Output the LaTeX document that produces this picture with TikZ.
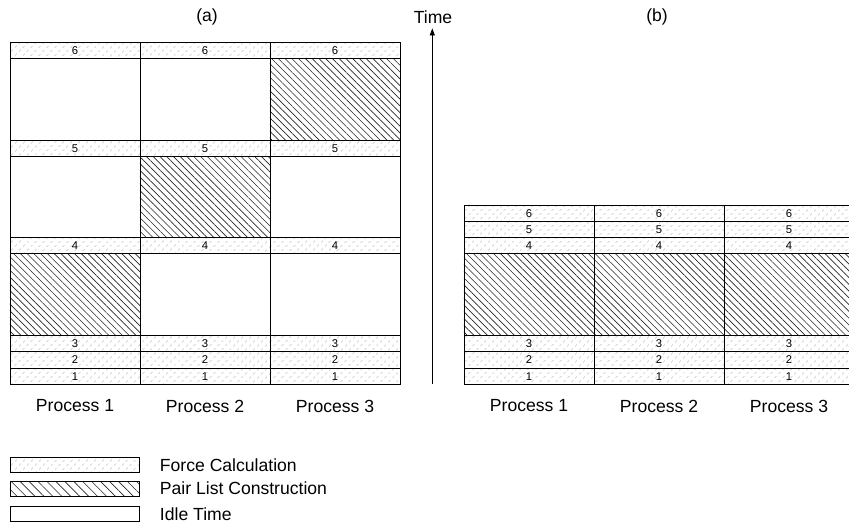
\documentclass[tikz,border=0pt]{standalone}
\usepackage{fontspec}
\setsansfont{Liberation Sans}
\usepackage{tikz}
\usetikzlibrary{arrows.meta, positioning, patterns.meta}

\begin{document}
\begin{tikzpicture}[x=0.025cm, y=-0.025cm,
  force/.style={draw, line width=0.6pt, minimum width=3.25cm, minimum height=0.40625cm, inner sep=0pt, pattern={Dots[distance=4pt, angle=45, radius=0.4pt]}, pattern color=gray, font=\sffamily\fontsize{8}{8}\selectfont},
  pairlist/.style={draw, line width=0.6pt, minimum width=3.25cm, minimum height=2.03125cm, inner sep=0pt, pattern={Lines[angle=-45, distance=3.4pt, line width=0.45pt]}, pattern color=black!85},
  idle/.style={draw, line width=0.6pt, minimum width=3.25cm, minimum height=2.03125cm, inner sep=0pt},
  plabel/.style={font=\sffamily\fontsize{12.5}{14}\selectfont},
  legbox/.style={draw, line width=0.6pt, minimum width=3.225cm, minimum height=0.37cm, inner sep=0pt},
  legtext/.style={font=\sffamily\fontsize{12.5}{14}\selectfont, anchor=west}
]
\useasboundingbox (0,0) rectangle (849,524);

% --- (a): Process 1 ---
\node[force] (a1f1) at (75,376.2) {1};
\node[force] (a1f2) at (75,359.9) {2};
\node[force] (a1f3) at (75,343.7) {3};
\node[pairlist] (a1b1) at (75,294.4) {};
\node[force] (a1f4) at (75,245.7) {4};
\node[idle] (a1b2) at (75,196.9) {};
\node[force] (a1f5) at (75,148.2) {5};
\node[idle] (a1b3) at (75,99.4) {};
\node[force] (a1f6) at (75,50.7) {6};

% --- (a): Process 2 ---
\node[force] (a2f1) at (205,376.2) {1};
\node[force] (a2f2) at (205,359.9) {2};
\node[force] (a2f3) at (205,343.7) {3};
\node[idle] (a2b1) at (205,294.4) {};
\node[force] (a2f4) at (205,245.7) {4};
\node[pairlist] (a2b2) at (205,196.9) {};
\node[force] (a2f5) at (205,148.2) {5};
\node[idle] (a2b3) at (205,99.4) {};
\node[force] (a2f6) at (205,50.7) {6};

% --- (a): Process 3 ---
\node[force] (a3f1) at (335,376.2) {1};
\node[force] (a3f2) at (335,359.9) {2};
\node[force] (a3f3) at (335,343.7) {3};
\node[idle] (a3b1) at (335,294.4) {};
\node[force] (a3f4) at (335,245.7) {4};
\node[idle] (a3b2) at (335,196.9) {};
\node[force] (a3f5) at (335,148.2) {5};
\node[pairlist] (a3b3) at (335,99.4) {};
\node[force] (a3f6) at (335,50.7) {6};

% --- (b): all processes ---
\foreach \col/\xc in {1/529, 2/659, 3/789} {
  \node[force] (b\col f1) at (\xc,376.2) {1};
  \node[force] (b\col f2) at (\xc,359.9) {2};
  \node[force] (b\col f3) at (\xc,343.7) {3};
  \node[pairlist] (b\col b1) at (\xc,294.4) {};
  \node[force] (b\col f4) at (\xc,245.7) {4};
  \node[force] (b\col f5) at (\xc,229.45) {5};
  \node[force] (b\col f6) at (\xc,213.2) {6};
}

% --- Titles and process labels ---
\node[plabel] (tita) at (207,17) {(a)};
\node[plabel] (titb) at (657,17) {(b)};
\node[plabel] (a1lab) at (75,406) {Process 1};
\node[plabel] (a2lab) at (205,406) {Process 2};
\node[plabel] (a3lab) at (335,406) {Process 3};
\node[plabel] (b1lab) at (529,406) {Process 1};
\node[plabel] (b2lab) at (659,406) {Process 2};
\node[plabel] (b3lab) at (789,406) {Process 3};

% --- Time axis ---
\node[plabel] (time) at (433,17) {Time};
\coordinate (tbase) at (432.3,384.3);
\draw[-{Triangle[length=5pt, width=3.6pt]}, line width=0.6pt] (tbase) -- (tbase |- time.south);

% --- Legend ---
\node[legbox, pattern={Dots[distance=4pt, angle=45, radius=0.4pt]}, pattern color=gray] (lforce) at (74.5,465) {};
\node[legbox, pattern={Lines[angle=-45, distance=4.5pt, line width=0.45pt]}, pattern color=black!85] (lpair) at (74.5,488.7) {};
\node[legbox] (lidle) at (74.5,514) {};
\node[legtext] (tforce) at (155,465) {Force Calculation};
\node[legtext] (tpair) at (155,488.7) {Pair List Construction};
\node[legtext] (tidle) at (155,514) {Idle Time};

\end{tikzpicture}
\end{document}
